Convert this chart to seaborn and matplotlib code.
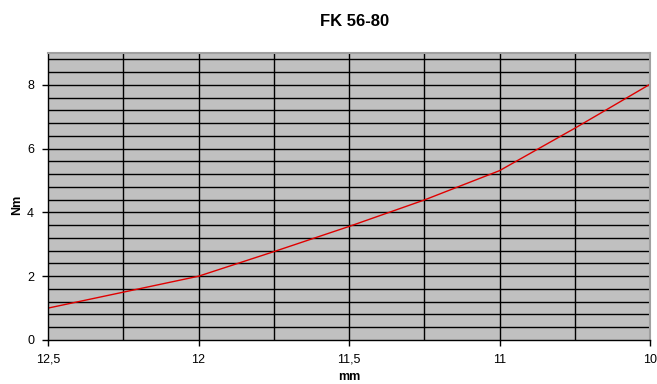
import numpy as np
import pandas as pd
import seaborn as sns
import matplotlib.pyplot as plt

# categories on the x axis (Excel category axis, reversed mm values)
mm_labels = ['12,5', '12,25', '12', '11,75', '11,5', '11,25', '11', '10,5', '10']
nm_values = [1.0, 1.5, 2.0, 2.77, 3.56, 4.39, 5.31, 6.64, 8.02]
shown_labels = ['12,5', '12', '11,5', '11', '10']

sns.set_style('white')
plt.rcParams['font.family'] = ['Liberation Sans', 'DejaVu Sans']
plt.rcParams['text.color'] = 'black'
plt.rcParams['xtick.color'] = 'black'
plt.rcParams['ytick.color'] = 'black'

df = pd.DataFrame({'pos': np.arange(len(mm_labels)), 'mm': mm_labels, 'Nm': nm_values})

fig = plt.figure(figsize=(6.57, 3.84), dpi=100)
ax = fig.add_axes([48 / 657, 1 - 340 / 384, 602 / 657, 287 / 384])
ax.set_facecolor('#C0C0C0')

sns.lineplot(data=df, x='pos', y='Nm', color='#E00000', linewidth=1.0, ax=ax)

ax.set_xlim(0, len(mm_labels) - 1)
ax.set_ylim(0, 9)

# grid: vertical at every category, horizontal every 0.4
for p in df['pos'][1:-1]:
    ax.axvline(p, color='black', linewidth=1.0, zorder=1)
for v in np.arange(0.4, 9, 0.4):
    ax.axhline(v, color='black', linewidth=1.0, zorder=1)

tick_pos = [mm_labels.index(s) for s in shown_labels]
ax.set_xticks(tick_pos)
ax.set_xticklabels(shown_labels)
ax.set_yticks([0, 2, 4, 6, 8])
ax.tick_params(axis='both', direction='out', length=4, width=1, color='black',
               labelsize=9, pad=6, bottom=True, left=True, labelcolor='black')

for s in ['left', 'bottom']:
    ax.spines[s].set_color('black')
    ax.spines[s].set_linewidth(1)
for s in ['top', 'right']:
    ax.spines[s].set_color('#A0A0A0')
    ax.spines[s].set_linewidth(1.5)

ax.set_xlabel('')
ax.set_ylabel('')
fig.text(355 / 657, 1 - 22 / 384, 'FK 56-80', ha='center', va='center',
         fontsize=12, fontweight='bold', color='black')
fig.text(349 / 657, 1 - 377 / 384, 'mm', ha='center', va='center',
         fontsize=9, fontweight='bold', color='black')
fig.text(17 / 657, 1 - 205 / 384, 'Nm', ha='center', va='center',
         fontsize=9, fontweight='bold', rotation=90, color='black')

fig.savefig('out.png', dpi=100)
